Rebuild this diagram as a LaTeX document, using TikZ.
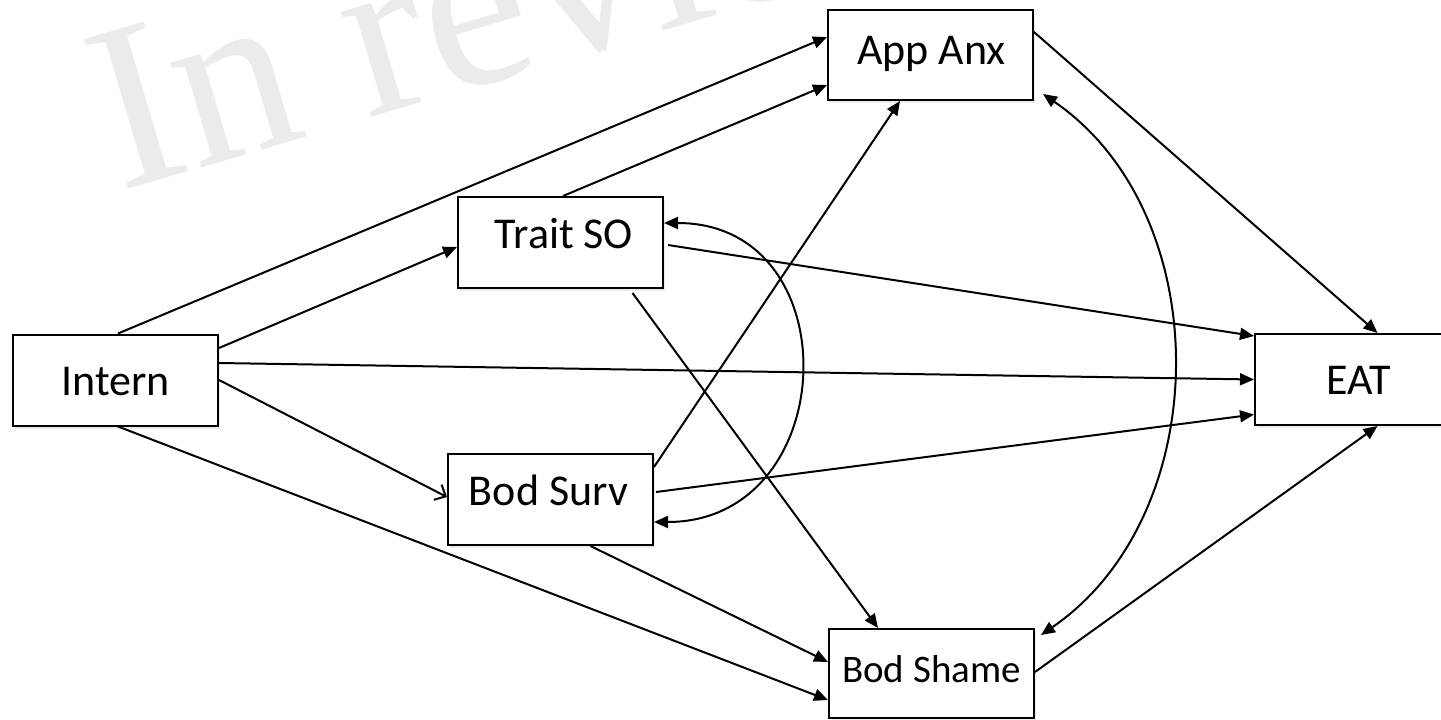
\documentclass[tikz,border=0pt]{standalone}
\usepackage{fontspec}
\setmainfont{Carlito}
\newfontfamily\wmfont{Liberation Serif}
\usetikzlibrary{arrows.meta,shadows}
\definecolor{wmgray}{RGB}{235,235,235}

\begin{document}
\begin{tikzpicture}[x=1pt,y=-1pt,
  box/.style={draw=black, line width=2pt, fill=white,
    minimum width=205pt, minimum height=91pt, inner sep=0pt,
    drop shadow={shadow xshift=2pt, shadow yshift=-3pt, opacity=0.15}},
  lbl/.style={anchor=base, inner sep=0pt, font=\fontsize{44}{50}\selectfont},
  conn/.style={line width=2pt, -{Triangle[length=14pt,width=12pt]}},
  biconn/.style={line width=2pt,
    {Triangle[length=14pt,width=12pt]}-{Triangle[length=14pt,width=12pt]}},
  openconn/.style={line width=2pt, -{Straight Barb[length=9pt,width=17pt]}}
]
\clip (0,0) rectangle (1441,720);

% watermark
\node[anchor=base west, rotate=16.5, inner sep=0pt, text=wmgray,
  font=\wmfont\fontsize{238}{238}\selectfont] (wm) at (120,192) {In review};

% variables
\node[box] (intern) at (115.5,380) {};
\node[box, minimum height=90pt] (app) at (930.5,55) {};
\node[box] (trait) at (560.5,242.5) {};
\node[box] (surv) at (550.5,499.5) {};
\node[box] (eat) at (1357.5,379.5) {};
\node[box, minimum height=89pt] (shame) at (931.5,673.5) {};

\node[lbl] (intern-t) at (115.5,395) {Intern};
\node[lbl] (app-t) at (931.5,64) {App Anx};
\node[lbl] (trait-t) at (564,248) {Trait SO};
\node[lbl] (surv-t) at (548.5,505) {Bod Surv};
\node[lbl] (eat-t) at (1358.5,394) {EAT};
\node[lbl, font=\fontsize{39}{45}\selectfont] (shame-t) at (931.5,682) {Bod Shame};

% paths
\draw[conn] ([xshift=2.5pt]intern.north) -- ([yshift=18pt]app.west);
\draw[conn] ([xshift=2.5pt]trait.north) -- ([yshift=-30pt]app.west);
\draw[conn] ([yshift=32.5pt]surv.east) -- ([xshift=-30.5pt]app.south);
\draw[conn] ([yshift=23pt]app.east) -- ([xshift=20pt]eat.north);

\draw[conn] ([yshift=32pt]intern.east) -- ([yshift=-4.5pt]trait.west);
\draw[conn] ([yshift=17pt]intern.east) -- (eat.west);
\draw[openconn] (intern.east) -- ([yshift=2.5pt]surv.west);
\draw[conn] ([xshift=2.5pt]intern.south) -- ([yshift=-26.5pt]shame.west);

\draw[conn] ([xshift=40pt]surv.south) -- ([yshift=11.5pt]shame.west);
\draw[conn] ([xshift=72pt,yshift=-4pt]trait.south) -- ([xshift=-53.5pt]shame.north);
\draw[conn] ([xshift=4pt,yshift=-2.5pt]trait.east) -- ([yshift=43.5pt]eat.west);
\draw[conn] ([xshift=2pt,yshift=7.5pt]surv.east) -- ([yshift=-35pt]eat.west);
\draw[conn] ([yshift=1.5pt]shame.east) -- ([xshift=20pt]eat.south);

% covariances
\draw[biconn] ([yshift=19.5pt]trait.east)
  .. controls +(188,0) and +(188,0) .. ([yshift=-22.5pt]surv.east);
\draw[biconn] ([xshift=9pt,yshift=7pt]app.south east)
  .. controls +(175,120) and +(175,-120) .. ([xshift=6pt,yshift=-7pt]shame.north east);
\end{tikzpicture}
\end{document}
